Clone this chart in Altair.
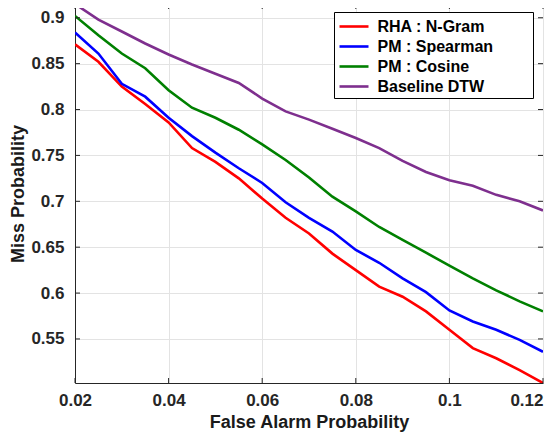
import altair as alt
import pandas as pd

# False alarm probability (x)
far = [0.02, 0.025, 0.03, 0.035, 0.04, 0.045, 0.05, 0.055, 0.06, 0.065, 0.07,
       0.075, 0.08, 0.085, 0.09, 0.095, 0.10, 0.105, 0.11, 0.115, 0.12]

# Miss probability per system
rha_ngram = [0.871, 0.852, 0.825, 0.806, 0.786, 0.758, 0.743, 0.725, 0.703, 0.682, 0.665,
             0.643, 0.625, 0.607, 0.596, 0.580, 0.560, 0.540, 0.529, 0.516, 0.502]
pm_spearman = [0.884, 0.861, 0.828, 0.814, 0.791, 0.771, 0.753, 0.736, 0.720, 0.699, 0.682,
               0.667, 0.647, 0.633, 0.616, 0.601, 0.581, 0.569, 0.560, 0.549, 0.536]
pm_cosine = [0.902, 0.881, 0.861, 0.845, 0.821, 0.802, 0.791, 0.778, 0.762, 0.745, 0.726,
             0.705, 0.689, 0.672, 0.658, 0.644, 0.630, 0.616, 0.603, 0.591, 0.580]
baseline_dtw = [0.915, 0.898, 0.885, 0.872, 0.860, 0.849, 0.839, 0.829, 0.812, 0.798, 0.789,
                0.779, 0.769, 0.758, 0.744, 0.732, 0.723, 0.717, 0.707, 0.700, 0.690]

series_names = ["RHA : N-Gram", "PM : Spearman", "PM : Cosine", "Baseline DTW"]
series_colors = ["#ff0000", "#0000ff", "#008000", "#7e2f8e"]

x_ticks = [0.02, 0.04, 0.06, 0.08, 0.10, 0.12]
y_ticks = [0.55, 0.6, 0.65, 0.7, 0.75, 0.8, 0.85, 0.9]

rows = []
for name, vals in zip(series_names, [rha_ngram, pm_spearman, pm_cosine, baseline_dtw]):
    for xv, yv in zip(far, vals):
        rows.append({"far": xv, "miss": yv, "system": name})
df = pd.DataFrame(rows)

FONT = "Liberation Sans"
xdom = [0.02, 0.12]
ydom = [0.502, 0.915]

xscale = alt.Scale(domain=xdom, nice=False, zero=False)
yscale = alt.Scale(domain=ydom, nice=False, zero=False)

PADCH = "\u2800" * 3

lines = alt.Chart(df).mark_line(strokeWidth=2.6, clip=True).encode(
    x=alt.X("far:Q", scale=xscale,
            axis=alt.Axis(title="False Alarm Probability", values=x_ticks, format=".2~f",
                          grid=True, gridColor="#e3e3e3", gridWidth=1,
                          domainColor="#262626", domainWidth=1, ticks=False,
                          labelFlush=False,
                          labelAlign=alt.condition("datum.value >= 0.119", alt.value("right"), alt.value("center")),
                          labelFont=FONT, labelFontSize=17, labelFontWeight="bold",
                          labelColor="#262626", labelPadding=9,
                          titleFont=FONT, titleFontSize=18, titleFontWeight="bold",
                          titleColor="#1a1a1a", titlePadding=5)),
    y=alt.Y("miss:Q", scale=yscale,
            axis=alt.Axis(title="Miss Probability", values=y_ticks, format=".2~f",
                          grid=True, gridColor="#e3e3e3", gridWidth=1,
                          domainColor="#262626", domainWidth=1, ticks=False,
                          labelFlush=False,
                          labelFont=FONT, labelFontSize=17, labelFontWeight="bold",
                          labelColor="#262626", labelPadding=11,
                          titleFont=FONT, titleFontSize=18, titleFontWeight="bold",
                          titleColor="#1a1a1a", titlePadding=3)),
    color=alt.Color("system:N",
                    scale=alt.Scale(domain=series_names, range=series_colors),
                    sort=series_names,
                    legend=alt.Legend(orient="none", legendX=259, legendY=8, title=None,
                                      symbolType="M-1.45,0H1.45", symbolSize=400,
                                      symbolStrokeWidth=2.6, symbolOffset=5.5,
                                      labelOffset=12, rowPadding=0,
                                      labelExpr="datum.label + '" + PADCH + "'",
                                      labelFont=FONT, labelFontSize=16, labelFontWeight="bold",
                                      labelColor="black", labelLimit=400,
                                      strokeColor="black", fillColor="white", padding=3)),
)

# inward tick marks (box style)
xt = pd.DataFrame({"t": x_ticks})
yt = pd.DataFrame({"t": y_ticks})
tick_color = "#262626"
bx = alt.Chart(xt).mark_rule(color=tick_color, strokeWidth=1).encode(
    x=alt.X("t:Q", scale=xscale), y=alt.value(379), y2=alt.value(374))
tx = alt.Chart(xt).mark_rule(color=tick_color, strokeWidth=1).encode(
    x=alt.X("t:Q", scale=xscale), y=alt.value(0), y2=alt.value(5))
ly = alt.Chart(yt).mark_rule(color=tick_color, strokeWidth=1).encode(
    y=alt.Y("t:Q", scale=yscale), x=alt.value(0), x2=alt.value(5))
ry = alt.Chart(yt).mark_rule(color=tick_color, strokeWidth=1).encode(
    y=alt.Y("t:Q", scale=yscale), x=alt.value(463), x2=alt.value(468))

chart = alt.layer(lines, bx, tx, ly, ry).properties(
    width=468, height=379,
    autosize=alt.AutoSizeParams(type="none"),
    padding={"left": 67, "top": -4, "right": 5, "bottom": 55},
).configure_view(stroke="#262626", strokeWidth=1).configure(background="white")

chart.save("out.html", embed_options={"renderer": "svg", "actions": False})
